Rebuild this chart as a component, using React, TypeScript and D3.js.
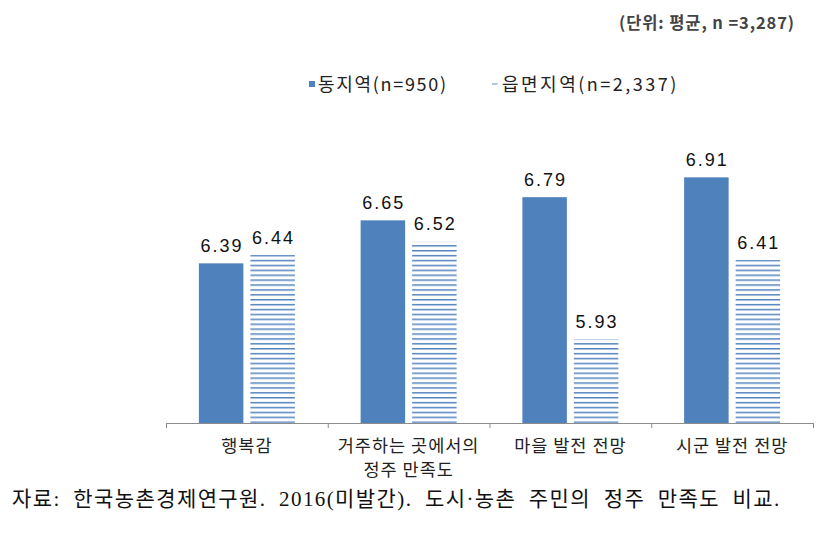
import React from "react";
import * as d3 from "d3";

const categories = ["행복감", "거주하는 곳에서의\n정주 만족도", "마을 발전 전망", "시군 발전 전망"];
const seriesNames = ["동지역(n=950)", "읍면지역(n=2,337)"];
const dongValues = [6.39, 6.65, 6.79, 6.91];
const eupValues = [6.44, 6.52, 5.93, 6.41];
const unitText = "(단위: 평균, n =3,287)";
const sourceText = "자료: 한국농촌경제연구원. 2016(미발간). 도시·농촌 주민의 정주 만족도 비교.";

const W = 820;
const H = 537;
const BLUE = "#4f81bd";
const HATCH = "#5585c0";
const KFONT = "'Noto Sans CJK KR', 'Noto Sans', sans-serif";

export default function App() {
  const baseline = 423;
  const x0 = d3.scaleBand<string>().domain(categories).range([166, 813]).padding(0);
  const x1 = d3.scaleBand<string>().domain(seriesNames).range([-48, 48]).paddingInner(0.136);
  const y = d3.scaleLinear().domain([5.425, 7.317]).range([baseline, 110]);
  const period = 4.9;
  const patternY = baseline % period;

  const seriesData = [dongValues, eupValues];

  return (
    <svg width={W} height={H} style={{ position: "absolute", left: 0, top: 0, background: "#fff" }}>
      <defs>
        <pattern id="hatch" patternUnits="userSpaceOnUse" width={8} height={period} y={patternY - 1.5}>
          <rect x={0} y={0} width={8} height={1.5} fill={HATCH} />
        </pattern>
      </defs>
      <rect x={0} y={0} width={W} height={H} fill="#fff" />

      {/* unit */}
      <text x={795} y={29} textAnchor="end" fontFamily={KFONT} fontSize={16.5} fontWeight={600} letterSpacing={0.9} fill="#444">
        {unitText}
      </text>

      {/* legend */}
      <rect x={309} y={81} width={6} height={6} fill={BLUE} />
      <text x={318} y={91} fontFamily={KFONT} fontSize={18} letterSpacing={1.7} fill="#222">
        {seriesNames[0]}
      </text>
      <line x1={492} x2={497.5} y1={84} y2={84} stroke="#8aa8cf" strokeWidth={1.3} />
      <text x={502} y={91} fontFamily={KFONT} fontSize={18} letterSpacing={2.5} fill="#222">
        {seriesNames[1]}
      </text>

      {/* bars */}
      {categories.map((c, i) => {
        const cx = (x0(c) as number) + x0.bandwidth() / 2;
        return (
          <g key={c}>
            {seriesNames.map((s, j) => {
              const v = seriesData[j][i];
              const bx = cx + (x1(s) as number);
              const top = y(v);
              return (
                <g key={s}>
                  <rect
                    x={bx}
                    y={top}
                    width={x1.bandwidth()}
                    height={baseline - top}
                    fill={j === 0 ? BLUE : "url(#hatch)"}
                  />
                  <text
                    x={bx + x1.bandwidth() / 2 + 1}
                    y={top - 11.5}
                    textAnchor="middle"
                    fontFamily="'Liberation Sans', Arial, sans-serif"
                    fontSize={18}
                    letterSpacing={2}
                    fill="#111"
                  >
                    {v.toFixed(2)}
                  </text>
                </g>
              );
            })}
          </g>
        );
      })}

      {/* axis */}
      <line x1={166} x2={813} y1={baseline + 0.5} y2={baseline + 0.5} stroke="#8c8c8c" strokeWidth={1} />
      {[...categories.map((c) => x0(c) as number), 813].map((t, i) => (
        <line key={i} x1={t + 0.5} x2={t + 0.5} y1={baseline} y2={baseline + 5} stroke="#8c8c8c" strokeWidth={1} />
      ))}
      {categories.map((c) => {
        const cx = (x0(c) as number) + x0.bandwidth() / 2;
        const lines = c.split("\n");
        return (
          <text key={c} textAnchor="middle" fontFamily={KFONT} fontSize={17.5} letterSpacing={1} fill="#222">
            {lines.map((l, k) => (
              <tspan key={k} x={cx} y={452 + k * 24}>
                {l}
              </tspan>
            ))}
          </text>
        );
      })}

      {/* source */}
      <text
        x={12}
        y={506}
        fontFamily="'Liberation Serif', 'Noto Sans CJK KR', serif"
        fontSize={21}
        wordSpacing={6}
        letterSpacing={1.4}
        fill="#111"
      >
        {sourceText}
      </text>
    </svg>
  );
}
